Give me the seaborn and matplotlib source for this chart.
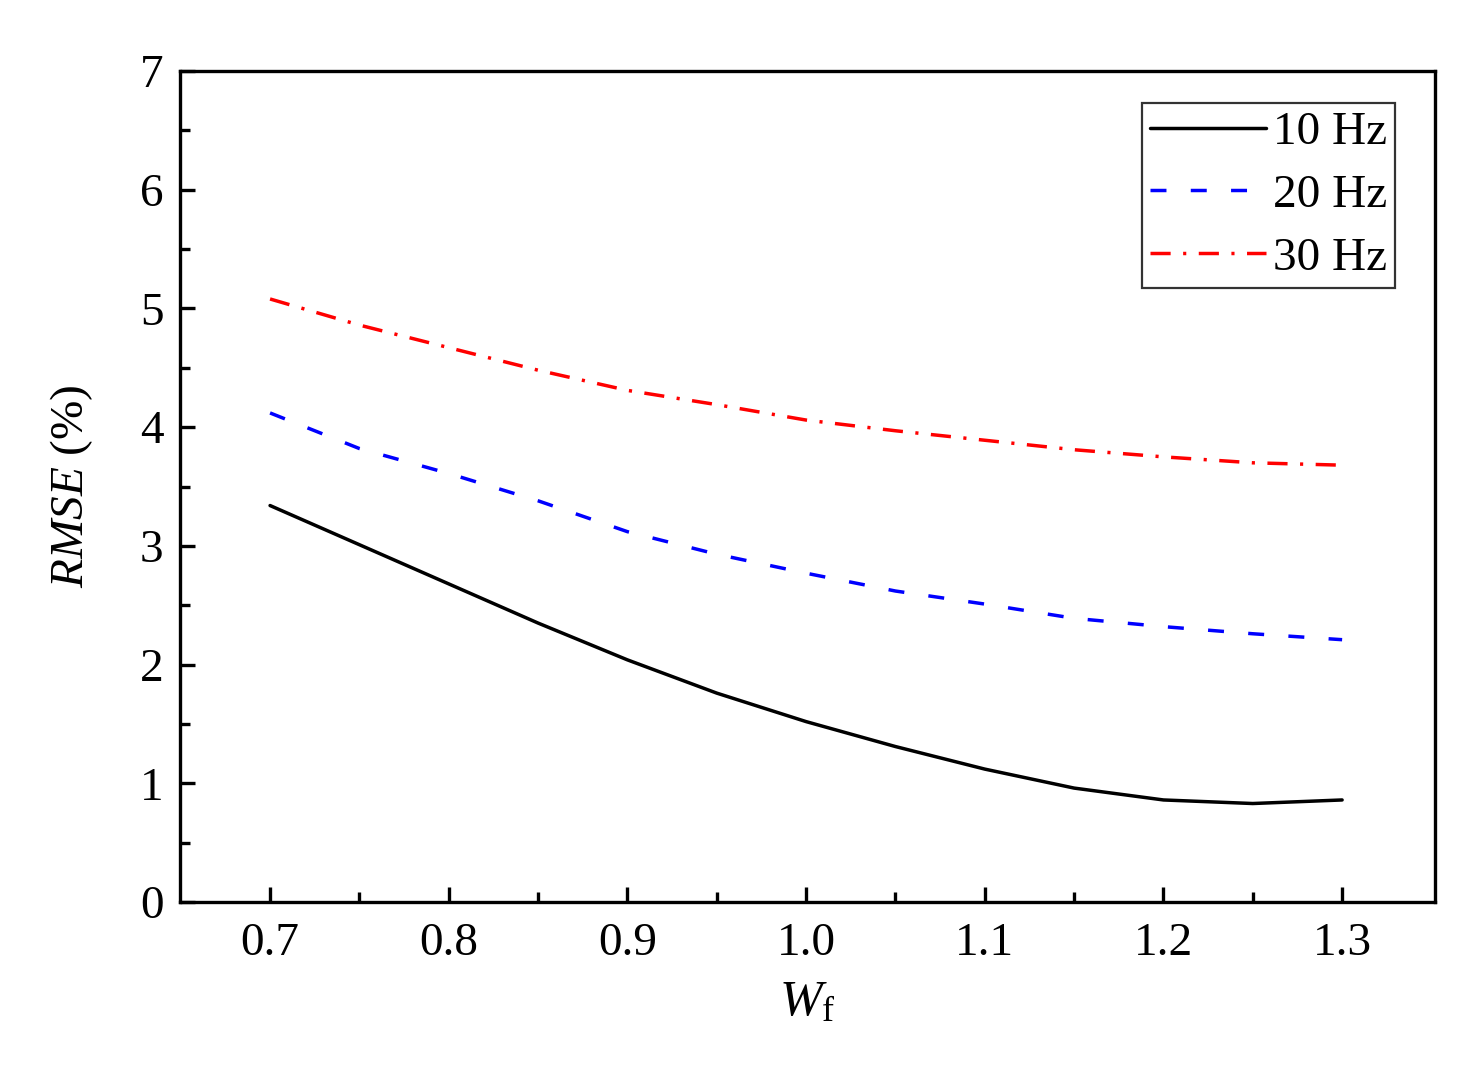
import numpy as np
import pandas as pd
import seaborn as sns
import matplotlib
matplotlib.use("Agg")
import matplotlib.pyplot as plt
from matplotlib.ticker import MultipleLocator, FixedLocator

# values
w_f = [0.70, 0.75, 0.80, 0.85, 0.90, 0.95, 1.00, 1.05, 1.10, 1.15, 1.20, 1.25, 1.30]
rmse_10hz = [3.34, 3.01, 2.68, 2.35, 2.04, 1.76, 1.52, 1.31, 1.12, 0.96, 0.86, 0.83, 0.86]
rmse_20hz = [4.12, 3.82, 3.61, 3.38, 3.12, 2.93, 2.77, 2.62, 2.51, 2.39, 2.32, 2.26, 2.21]
rmse_30hz = [5.08, 4.86, 4.67, 4.48, 4.31, 4.19, 4.06, 3.97, 3.89, 3.81, 3.75, 3.70, 3.68]
labels = ["10 Hz", "20 Hz", "30 Hz"]
colors = ["black", "#0000ff", "#ff0000"]
styles = ["-", (0, (4.6, 7.0)), (0, (5.8, 3.6, 0.9, 3.6))]

sns.set_theme(style="white")
plt.rcParams["font.family"] = ["Liberation Serif", "DejaVu Serif"]
plt.rcParams["mathtext.fontset"] = "custom"
plt.rcParams["mathtext.rm"] = "Liberation Serif"
plt.rcParams["mathtext.it"] = "Liberation Serif:italic"
plt.rcParams["text.color"] = "black"
plt.rcParams["axes.labelcolor"] = "black"

fig = plt.figure(figsize=(14.84, 10.65), dpi=100)
ax = fig.add_axes([0.1213, 0.153, 0.8457, 0.7803])

for vals, lab, col, ls in zip([rmse_10hz, rmse_20hz, rmse_30hz], labels, colors, styles):
    df = pd.DataFrame({"Wf": w_f, "RMSE": vals})
    sns.lineplot(data=df, x="Wf", y="RMSE", color=col, linestyle=ls,
                 linewidth=2.5, label=lab, ax=ax)

ax.set_xlim(0.6496, 1.352)
ax.set_ylim(0, 7)
ax.xaxis.set_major_locator(MultipleLocator(0.1))
ax.xaxis.set_minor_locator(FixedLocator(np.arange(0.75, 1.3, 0.1)))
ax.yaxis.set_major_locator(MultipleLocator(1))
ax.yaxis.set_minor_locator(MultipleLocator(0.5))
ax.xaxis.set_major_formatter(matplotlib.ticker.FormatStrFormatter("%.1f"))

for sp in ax.spines.values():
    sp.set_linewidth(2.4)
    sp.set_color("black")

ax.tick_params(which="both", direction="in", bottom=True, left=True, top=False, right=False,
               width=2.4, colors="black", labelsize=34)
ax.tick_params(which="major", length=11)
ax.tick_params(which="minor", length=7)
ax.tick_params(axis="y", pad=12)
ax.tick_params(axis="x", pad=15)

ax.set_xlabel(r"$W_\mathrm{f}$", fontsize=37, labelpad=10)
ax.set_ylabel(r"$RMSE$ (%)", fontsize=34, labelpad=32)

leg = ax.legend(loc="upper right", bbox_to_anchor=(0.968, 0.9615), borderaxespad=0,
                fontsize=34, handlelength=2.45, handletextpad=0.15, labelspacing=0.42,
                borderpad=0.17, fancybox=False, frameon=True, edgecolor="black")
leg.get_frame().set_linewidth(1.6)
for t in leg.get_texts():
    t.set_color("black")

fig.savefig("out.png", dpi=100, facecolor="white")
